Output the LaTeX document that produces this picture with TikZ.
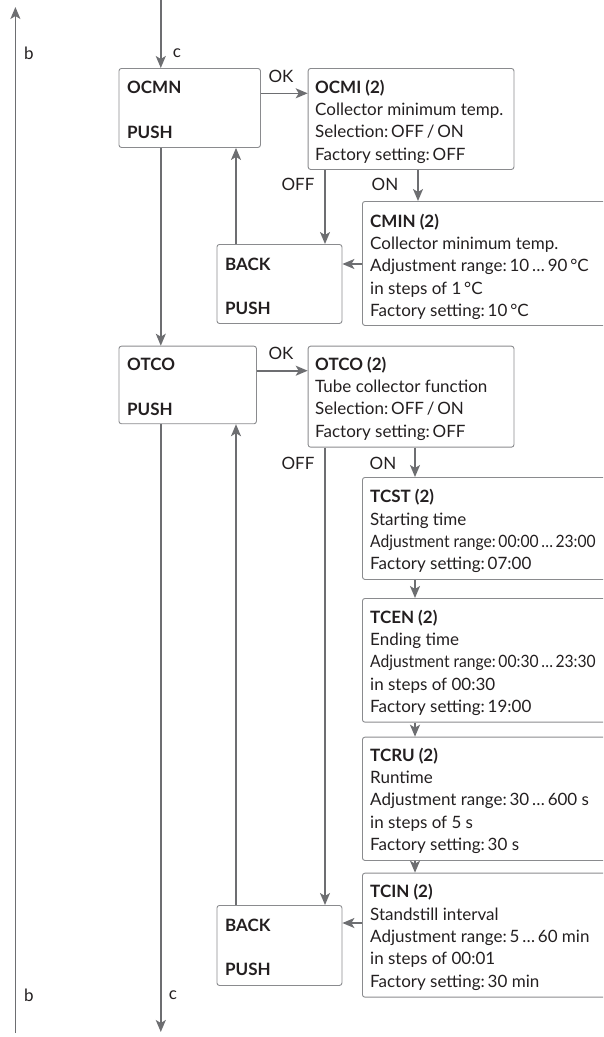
\documentclass[tikz,border=0pt]{standalone}
\usepackage{fontspec}
\usepackage{graphicx}
\setmainfont{Lato}
\usetikzlibrary{arrows.meta}
\definecolor{linegray}{HTML}{6D6E71}
\definecolor{boxgray}{HTML}{8A8B8E}
\definecolor{txtcol}{HTML}{231F20}
\tikzset{
  box/.style={draw=boxgray, line width=0.9pt, rounded corners=2.5pt, inner sep=0pt, anchor=north west},
  arr/.style={draw=linegray, line width=1.6pt, -{Stealth[length=12pt,width=10pt,inset=3pt]}},
  txt/.style={anchor=base west, inner sep=0pt, text=txtcol, font=\fontsize{17}{20}\selectfont},
  lbl/.style={inner sep=0pt, text=txtcol, font=\fontsize{17}{20}\selectfont},
}
\newcommand{\boxlines}[4]{% name, x, first baseline, list
  \foreach \t [count=\i] in {#4} \node[txt] (#1-\i) at (#2,{#3+22.4*(\i-1)}) {\t};}
\newcommand{\narrow}[1]{\scalebox{0.92}[1]{#1}}
\begin{document}
\begin{tikzpicture}[x=1pt,y=-1pt]
\useasboundingbox (0,0) rectangle (603,1037);
\clip (0,0) rectangle (603,1037);
% coordinates for free ends
\coordinate (btop) at (15.4,7);
\coordinate (bbot) at (15.4,1033);
\coordinate (ctop) at (160.8,0);
\coordinate (cbot) at (160.8,1032);
% boxes
\node[box, minimum width=141.5pt, minimum height=79pt] (ocmn) at (118.5,68) {};
\node[box, minimum width=205.8pt, minimum height=101pt] (ocmi) at (307.7,68) {};
\node[box, minimum width=125pt, minimum height=79pt] (back1) at (216.5,244) {};
\node[box, minimum width=250pt, minimum height=124pt] (cmin) at (362,201) {};
\node[box, minimum width=137.5pt, minimum height=77.6pt] (otco) at (118.5,345.7) {};
\node[box, minimum width=205.8pt, minimum height=101pt] (otcob) at (307.7,345.7) {};
\node[box, minimum width=250pt, minimum height=102pt] (tcst) at (362,477) {};
\node[box, minimum width=250pt, minimum height=123.7pt] (tcen) at (362,598) {};
\node[box, minimum width=250pt, minimum height=123.3pt] (tcru) at (362,736.7) {};
\node[box, minimum width=250pt, minimum height=124pt] (tcin) at (362,872.7) {};
\node[box, minimum width=125pt, minimum height=80pt] (back2) at (216.5,905) {};
% texts
\node[txt] (ocmn-1) at (127,93) {\textbf{OCMN}};
\node[txt] (ocmn-2) at (127,138) {\textbf{PUSH}};
\node[txt] (back1-1) at (225,270) {\textbf{BACK}};
\node[txt] (back1-2) at (225,314) {\textbf{PUSH}};
\node[txt] (otco-1) at (127,370) {\textbf{OTCO}};
\node[txt] (otco-2) at (127,415) {\textbf{PUSH}};
\node[txt] (back2-1) at (225,931) {\textbf{BACK}};
\node[txt] (back2-2) at (225,975) {\textbf{PUSH}};
\boxlines{ocmi}{315}{93}{{\textbf{OCMI (2)}},Collector minimum temp.,Selection:\,OFF\,/\,ON,Factory setting:\,OFF}
\boxlines{cmin}{370}{227}{{\textbf{CMIN (2)}},Collector minimum temp.,Adjustment range:\,10\,…\,90\,°C,in steps of 1\,°C,Factory setting:\,10\,°C}
\boxlines{otcob}{315}{370}{{\textbf{OTCO (2)}},Tube collector function,Selection:\,OFF\,/\,ON,Factory setting:\,OFF}
\boxlines{tcst}{370}{502.7}{{\textbf{TCST (2)}},Starting time,{\narrow{Adjustment range:\,00:00\,…\,23:00}},Factory setting:\,07:00}
\boxlines{tcen}{370}{623}{{\textbf{TCEN (2)}},Ending time,{\narrow{Adjustment range:\,00:30\,…\,23:30}},in steps of 00:30,Factory setting:\,19:00}
\boxlines{tcru}{370}{761}{{\textbf{TCRU (2)}},Runtime,Adjustment range:\,30\,…\,600 s,in steps of 5 s,Factory setting:\,30 s}
\boxlines{tcin}{370}{897.7}{{\textbf{TCIN (2)}},Standstill interval,Adjustment range:\,5\,…\,60 min,in steps of 00:01,Factory setting:\,30 min}
% labels
\node[lbl] (ok1) at (281,76) {OK};
\node[lbl] (ok2) at (281,353) {OK};
\node[lbl] (off1) at (298,184) {OFF};
\node[lbl] (on1) at (385,184) {ON};
\node[lbl] (off2) at (298,463) {OFF};
\node[lbl] (on2) at (383,463) {ON};
\node[lbl] (b1) at (29,53) {b};
\node[lbl] (b2) at (29,995) {b};
\node[lbl] (c1) at (177,53) {c};
\node[lbl] (c2) at (173,995) {c};
% helper coordinates
\coordinate (p1) at ([yshift=-20pt]back1.north east);
\coordinate (p2) at ([yshift=-18pt]back2.north east);
% connectors
\draw[arr] (bbot) -- (btop);
\draw[arr] (ctop) -- (ctop |- ocmn.north);
\draw[arr] (ocmn.south -| ctop) -- (ctop |- otco.north);
\draw[arr] (otco.south -| ctop) -- (cbot);
\draw[arr] ([yshift=-25.3pt]ocmn.north east) -- ([yshift=-25.3pt]ocmi.north west);
\draw[arr] ([xshift=17.3pt]ocmi.south west) -- ([xshift=17.3pt]ocmi.south west |- back1.north);
\draw[arr] ([xshift=110.3pt]ocmi.south west) -- ([xshift=110.3pt]ocmi.south west |- cmin.north);
\draw[arr] (cmin.west |- p1) -- (p1);
\draw[arr] ([xshift=19.5pt]back1.north west) -- ([xshift=19.5pt]back1.north west |- ocmn.south);
\draw[arr] ([yshift=-25pt]otco.north east) -- ([yshift=-25pt]otcob.north west);
\draw[arr] ([xshift=17.3pt]otcob.south west) -- ([xshift=17.3pt]otcob.south west |- back2.north);
\draw[arr] ([xshift=107.3pt]otcob.south west) -- ([xshift=107.3pt]otcob.south west |- tcst.north);
\draw[arr] ([xshift=53pt]tcst.south west) -- ([xshift=53pt]tcst.south west |- tcen.north);
\draw[arr] ([xshift=53pt]tcen.south west) -- ([xshift=53pt]tcen.south west |- tcru.north);
\draw[arr] ([xshift=53pt]tcru.south west) -- ([xshift=53pt]tcru.south west |- tcin.north);
\draw[arr] (tcin.west |- p2) -- (p2);
\draw[arr] ([xshift=19.5pt]back2.north west) -- ([xshift=19.5pt]back2.north west |- otco.south);
\end{tikzpicture}
\end{document}
